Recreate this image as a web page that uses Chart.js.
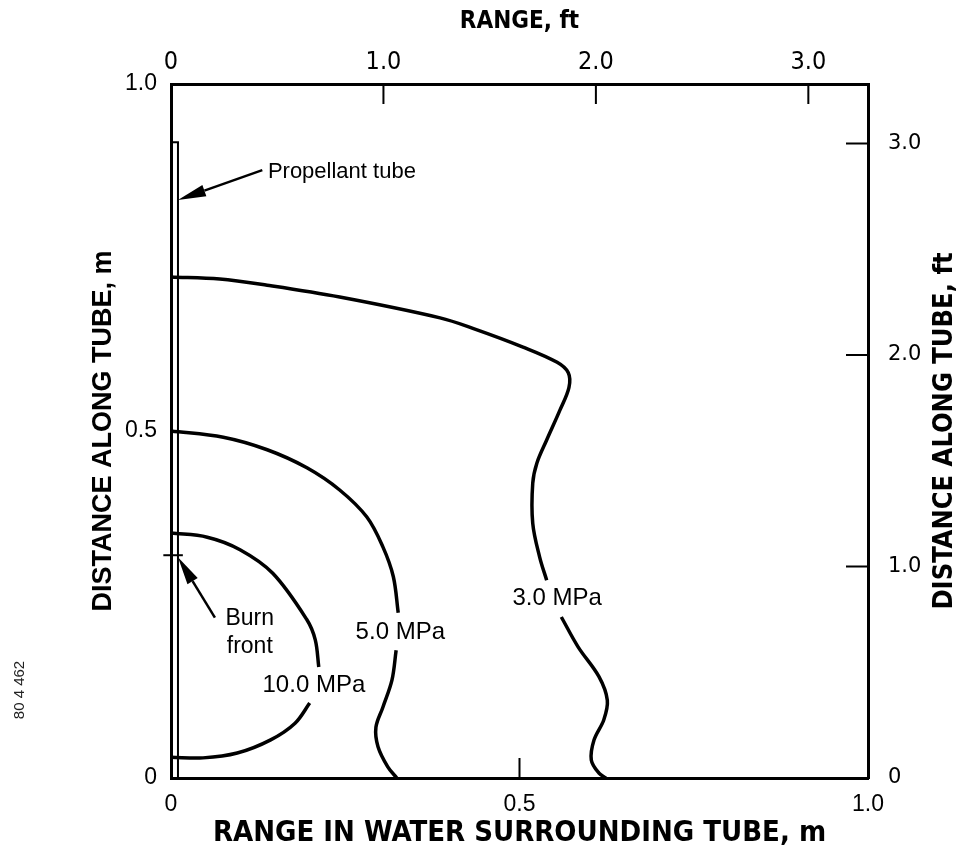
<!DOCTYPE html>
<html>
<head>
<meta charset="utf-8">
<script src="https://cdn.jsdelivr.net/npm/chart.js@4.4.1/dist/chart.umd.min.js"></script>
<style>
  html, body { margin: 0; padding: 0; background: #fff; }
  #wrap { width: 962px; height: 860px; }
</style>
</head>
<body>
<div id="wrap"><canvas id="chart" width="962" height="860"></canvas></div>
<script>
const FT = 0.3048;   // metres per foot

// pressure contours: [range m, distance along tube m], broken where the label sits
const mpa3Upper = [
  [0, 0.722], [0.070, 0.719], [0.138, 0.710], [0.242, 0.693], [0.386, 0.663],
  [0.433, 0.648], [0.505, 0.621], [0.554, 0.599], [0.570, 0.584], [0.571, 0.563],
  [0.558, 0.530], [0.539, 0.487], [0.525, 0.454], [0.519, 0.425], [0.519, 0.367],
  [0.529, 0.318], [0.539, 0.285]
];
const mpa3Lower = [
  [0.560, 0.232], [0.584, 0.189], [0.614, 0.146], [0.626, 0.112], [0.621, 0.084],
  [0.607, 0.055], [0.603, 0.026], [0.614, 0.007], [0.624, 0]
];
const mpa5Upper = [
  [0, 0.500], [0.075, 0.491], [0.138, 0.473], [0.195, 0.447], [0.242, 0.415],
  [0.281, 0.376], [0.304, 0.333], [0.319, 0.290], [0.326, 0.238]
];
const mpa5Lower = [
  [0.323, 0.184], [0.317, 0.141], [0.304, 0.102], [0.294, 0.073], [0.297, 0.045],
  [0.311, 0.016], [0.324, 0]
];
const mpa10Upper = [
  [0, 0.353], [0.052, 0.347], [0.099, 0.329], [0.146, 0.295], [0.195, 0.228],
  [0.207, 0.199], [0.212, 0.160]
];
const mpa10Lower = [
  [0.199, 0.108], [0.178, 0.079], [0.143, 0.055], [0.095, 0.036], [0.046, 0.029],
  [0, 0.030]
];
// propellant tube outline
const tube = [[0, 0], [0, 0.916], [0.010, 0.916], [0.010, 0]];

// contour labels: text, x, y
const contourLabels = [
  ['3.0 MPa', 0.554, 0.259],
  ['5.0 MPa', 0.329, 0.210],
  ['10.0 MPa', 0.205, 0.134]
];
const burnFrontAt = 0.321;

// axis ticks
const metreTicks = [0, 0.5, 1.0];
const metreLabels = ['0', '0.5', '1.0'];
const footTicks = [0, 1, 2, 3];
const footLabels = ['0', '1.0', '2.0', '3.0'];

const toPts = arr => arr.map(p => ({ x: p[0], y: p[1] }));

function line(arr, width, tension) {
  return {
    data: toPts(arr),
    showLine: true,
    borderColor: '#000',
    borderWidth: width,
    pointRadius: 0,
    tension: tension,
    clip: false,
    xAxisID: 'x',
    yAxisID: 'y'
  };
}

const sans = "'Liberation Sans', Arial, sans-serif";
const narrow = "'Liberation Sans Narrow', 'DejaVu Sans Condensed', 'Liberation Sans', sans-serif";

function pinTicks(values) {
  return s => { s.ticks = values.map(v => ({ value: v })); };
}

// inward tick marks on the bottom, top and right frame
const innerTicks = {
  id: 'innerTicks',
  afterDraw(chart) {
    const { ctx, chartArea: a, scales } = chart;
    ctx.save();
    ctx.strokeStyle = '#000';
    ctx.lineWidth = 2;
    ctx.beginPath();
    [0.5].forEach(v => {
      const x = scales.x.getPixelForValue(v);
      ctx.moveTo(x, a.bottom); ctx.lineTo(x, a.bottom - 20);
    });
    [1, 2, 3].forEach(v => {
      const x = scales.x2.getPixelForValue(v);
      ctx.moveTo(x, a.top); ctx.lineTo(x, a.top + 20);
    });
    footTicks.forEach(v => {
      const y = scales.y2.getPixelForValue(v);
      ctx.moveTo(a.right, y); ctx.lineTo(a.right - 22, y);
    });
    ctx.stroke();
    ctx.restore();
  }
};

function arrow(ctx, x0, y0, x1, y1) {
  const ang = Math.atan2(y1 - y0, x1 - x0);
  const len = 28, half = 6;
  const bx = x1 - Math.cos(ang) * len, by = y1 - Math.sin(ang) * len;
  ctx.beginPath();
  ctx.moveTo(x0, y0); ctx.lineTo(bx, by);
  ctx.stroke();
  ctx.beginPath();
  ctx.moveTo(x1, y1);
  ctx.lineTo(bx + Math.sin(ang) * half, by - Math.cos(ang) * half);
  ctx.lineTo(bx - Math.sin(ang) * half, by + Math.cos(ang) * half);
  ctx.closePath();
  ctx.fill();
}

// labels, arrows and the right-hand title
const notes = {
  id: 'notes',
  afterDraw(chart) {
    const { ctx, scales } = chart;
    const px = v => scales.x.getPixelForValue(v);
    const py = v => scales.y.getPixelForValue(v);
    ctx.save();
    ctx.fillStyle = '#000';
    ctx.strokeStyle = '#000';
    ctx.textBaseline = 'middle';

    ctx.font = '24px ' + sans;
    ctx.textAlign = 'center';
    contourLabels.forEach(([t, x, y]) => ctx.fillText(t, px(x), py(y)));

    ctx.font = '22px ' + sans;
    ctx.textAlign = 'left';
    ctx.fillText('Propellant tube', px(0.139), py(0.873));
    ctx.textAlign = 'center';
    ctx.font = '23px ' + sans;
    ctx.fillText('Burn', px(0.113), py(0.229));
    ctx.fillText('front', px(0.113), py(0.189));

    ctx.lineWidth = 2.5;
    arrow(ctx, px(0.131), py(0.876), px(0.010), py(0.833));
    arrow(ctx, px(0.063), py(0.231), px(0.010), py(burnFrontAt - 0.003));

    // burn front mark across the tube
    ctx.lineWidth = 2;
    ctx.beginPath();
    ctx.moveTo(px(-0.011), py(burnFrontAt));
    ctx.lineTo(px(0.017), py(burnFrontAt));
    ctx.stroke();

    ctx.font = 'bold 27px ' + narrow;
    ctx.translate(945, (chart.chartArea.top + chart.chartArea.bottom) / 2);
    ctx.rotate(-Math.PI / 2);
    ctx.textAlign = 'center';
    ctx.fillText('DISTANCE ALONG TUBE, ft', 0, 0);
    ctx.restore();

    ctx.save();
    ctx.font = '15px ' + sans;
    ctx.fillStyle = '#222';
    ctx.translate(20, 690);
    ctx.rotate(-Math.PI / 2);
    ctx.textAlign = 'center';
    ctx.textBaseline = 'middle';
    ctx.fillText('80 4 462', 0, 0);
    ctx.restore();
  }
};

const frame = { color: '#000', width: 3 };
const noGrid = { display: false, drawTicks: false };

new Chart(document.getElementById('chart'), {
  type: 'scatter',
  data: {
    datasets: [
      line(tube, 2, 0),
      line(mpa3Upper, 3.5, 0.35),
      line(mpa3Lower, 3.5, 0.35),
      line(mpa5Upper, 3.5, 0.35),
      line(mpa5Lower, 3.5, 0.35),
      line(mpa10Upper, 3.5, 0.35),
      line(mpa10Lower, 3.5, 0.35)
    ]
  },
  options: {
    responsive: false,
    animation: false,
    events: [],
    layout: { padding: 0 },
    plugins: { legend: { display: false }, tooltip: { enabled: false } },
    scales: {
      x: {
        type: 'linear', position: 'bottom', min: 0, max: 1,
        grid: noGrid, border: frame,
        afterBuildTicks: pinTicks(metreTicks),
        afterFit: s => { s.height = 82; },
        ticks: {
          color: '#000', padding: 13, maxRotation: 0,
          font: { family: sans, size: 23 },
          callback: (v, i) => metreLabels[i]
        },
        title: {
          display: true, text: 'RANGE IN WATER SURROUNDING TUBE, m', color: '#000',
          font: { family: narrow, size: 29, weight: 'bold' },
          padding: { top: 0, bottom: 9 }
        }
      },
      x2: {
        type: 'linear', position: 'top', min: 0, max: 1 / FT,
        grid: noGrid, border: frame,
        afterBuildTicks: pinTicks(footTicks),
        afterFit: s => { s.height = 84; },
        ticks: {
          color: '#000', padding: 7, maxRotation: 0,
          font: { family: narrow, size: 25 },
          callback: (v, i) => footLabels[i]
        },
        title: {
          display: true, text: 'RANGE, ft', color: '#000',
          font: { family: narrow, size: 24, weight: 'bold' },
          padding: { top: 7, bottom: 0 }
        }
      },
      y: {
        type: 'linear', position: 'left', min: 0, max: 1,
        grid: noGrid, border: frame,
        afterBuildTicks: pinTicks(metreTicks),
        afterFit: s => { s.width = 171; },
        ticks: {
          color: '#000', padding: 14,
          font: { family: sans, size: 23 },
          callback: (v, i) => metreLabels[i]
        },
        title: {
          display: true, text: 'DISTANCE ALONG TUBE, m', color: '#000',
          font: { family: sans, size: 27, weight: 'bold' },
          padding: { top: 87, bottom: 0 }
        }
      },
      y2: {
        type: 'linear', position: 'right', min: 0, max: 1 / FT,
        grid: noGrid, border: frame,
        afterBuildTicks: pinTicks(footTicks),
        afterFit: s => { s.width = 94; },
        ticks: {
          color: '#000', padding: 20,
          font: { family: "'DejaVu Sans', sans-serif", size: 21 },
          callback: (v, i) => footLabels[i]
        }
      }
    }
  },
  plugins: [innerTicks, notes]
});
</script>
</body>
</html>
